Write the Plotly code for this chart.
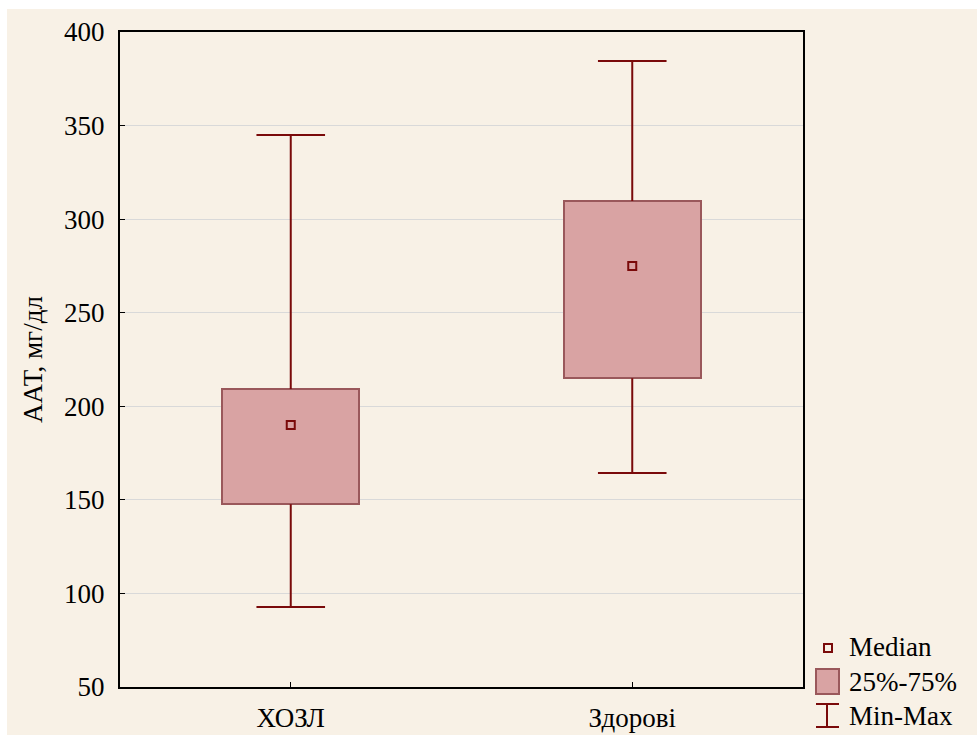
import plotly.graph_objects as go

# Group labels and summary statistics (AAT, mg/dl)
groups = ["ХОЗЛ", "Здорові"]
mins = [92.7, 164.3]
q1s = [147.7, 215.0]
medians = [190.0, 275.0]
q3s = [209.2, 309.7]
maxs = [345.0, 384.5]

y_ticks = [50, 100, 150, 200, 250, 300, 350, 400]
y_title = "ААТ, мг/дл"
legend_labels = ["Median", "25%-75%", "Min-Max"]

W, H = 977, 735
L, R, T, B = 120, 803, 32, 687   # plot-area bounds in pixels

BOX_FILL = "#d9a3a3"
BOX_LINE = "#9a585b"
WHISKER = "#7a0a0a"
FONT = "Liberation Serif, Times New Roman, serif"
FS = 27


def px(x):
    return (x - L) / (R - L)


def py(y):
    return (B - y) / (B - T)


fig = go.Figure()

# interquartile boxes
fig.add_trace(go.Bar(
    x=groups,
    y=[b - a for a, b in zip(q1s, q3s)],
    base=q1s,
    width=0.4,
    marker=dict(color=BOX_FILL, line=dict(color=BOX_LINE, width=2)),
    showlegend=False,
    hoverinfo="skip",
))

# whisker stems (outside the box)
wx, wy = [], []
for g, lo, a, b, hi in zip(groups, mins, q1s, q3s, maxs):
    wx += [g, g, None, g, g, None]
    wy += [lo, a, None, b, hi, None]
fig.add_trace(go.Scatter(
    x=wx, y=wy, mode="lines",
    line=dict(color=WHISKER, width=2),
    showlegend=False, hoverinfo="skip",
))

# whisker caps
fig.add_trace(go.Scatter(
    x=groups + groups, y=mins + maxs, mode="markers",
    marker=dict(symbol="line-ew", size=49, color=WHISKER,
                line=dict(color=WHISKER, width=2)),
    showlegend=False, hoverinfo="skip",
))

# medians
fig.add_trace(go.Scatter(
    x=groups, y=medians, mode="markers",
    marker=dict(symbol="square-open", size=8, color=WHISKER,
                line=dict(color=WHISKER, width=2)),
    showlegend=False, hoverinfo="skip",
))

shapes = [
    # beige panel behind everything
    dict(type="rect", xref="paper", yref="paper", layer="below",
         x0=px(7), x1=px(990), y0=py(750), y1=py(9),
         fillcolor="#f8f1e6", line=dict(width=0)),
    # legend glyph: median
    dict(type="rect", xref="paper", yref="paper",
         x0=px(824), x1=px(832), y0=py(652), y1=py(644),
         fillcolor="rgba(0,0,0,0)", line=dict(color=WHISKER, width=2)),
    # legend glyph: box
    dict(type="rect", xref="paper", yref="paper",
         x0=px(816), x1=px(839), y0=py(694), y1=py(669),
         fillcolor=BOX_FILL, line=dict(color=BOX_LINE, width=2)),
    # legend glyph: min-max
    dict(type="line", xref="paper", yref="paper",
         x0=px(827), x1=px(827), y0=py(727), y1=py(704),
         line=dict(color=WHISKER, width=2)),
    dict(type="line", xref="paper", yref="paper",
         x0=px(816), x1=px(839), y0=py(704), y1=py(704),
         line=dict(color=WHISKER, width=2)),
    dict(type="line", xref="paper", yref="paper",
         x0=px(816), x1=px(839), y0=py(727), y1=py(727),
         line=dict(color=WHISKER, width=2)),
]

annotations = [
    dict(text=t, xref="paper", yref="paper", x=px(847), y=py(yc),
         xanchor="left", yanchor="middle", showarrow=False,
         font=dict(family=FONT, size=FS, color="black"))
    for t, yc in zip(legend_labels, [647, 682, 716])
]

fig.update_layout(
    width=W, height=H,
    margin=dict(l=L, r=W - R, t=T, b=H - B, pad=0, autoexpand=False),
    paper_bgcolor="white",
    plot_bgcolor="#f8f8f8",
    font=dict(family=FONT, size=FS, color="black"),
    bargap=0,
    shapes=shapes,
    annotations=annotations,
    showlegend=False,
    xaxis=dict(
        range=[-0.5, 1.5],
        automargin=False,
        showgrid=False,
        showline=True, linecolor="black", linewidth=2, mirror=True,
        ticks="inside", ticklen=5, tickcolor="black", tickwidth=1,
        tickfont=dict(family=FONT, size=FS, color="black"),
        ticklabelstandoff=6,
        zeroline=False,
    ),
    yaxis=dict(
        range=[50, 400],
        tickvals=y_ticks,
        automargin=False,
        showgrid=True, gridcolor="#d9d9d9", gridwidth=1,
        showline=True, linecolor="black", linewidth=2, mirror=True,
        ticks="inside", ticklen=5, tickcolor="black", tickwidth=1,
        tickfont=dict(family=FONT, size=FS, color="black"),
        ticklabelstandoff=8,
        zeroline=False,
        title=dict(text=y_title, font=dict(family=FONT, size=FS, color="black"),
                   standoff=14),
    ),
)

fig.write_html("out.html")
